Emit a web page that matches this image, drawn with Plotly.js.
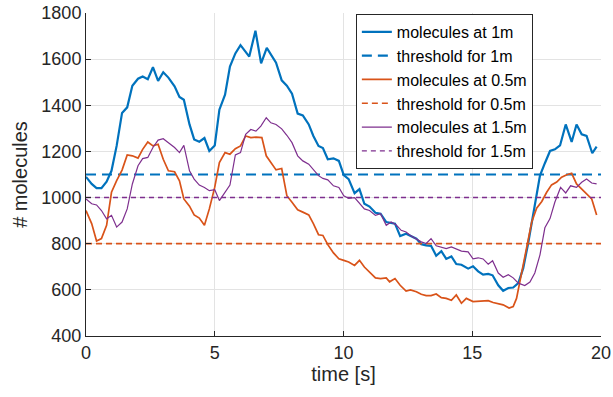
<!DOCTYPE html>
<html>
<head>
<meta charset="utf-8">
<script src="https://cdn.plot.ly/plotly-3.0.1.min.js"></script>
<style>html,body{margin:0;padding:0;background:#fff;}#chart{width:613px;height:397px;}</style>
</head>
<body>
<div id="chart"></div>
<script>
// ---- data ----
const blueT = [0,0.22,0.41,0.6,0.8,0.99,1.19,1.4,1.6,1.8,2.02,2.2,2.4,2.6,2.8,3.0,3.2,3.44,3.63,3.8,4.02,4.2,4.4,4.6,4.79,5.0,5.18,5.4,5.59,5.8,6.0,6.34,6.58,6.8,7.02,7.2,7.38,7.6,7.8,8.0,8.22,8.42,8.65,8.83,9.03,9.2,9.39,9.61,9.82,10.01,10.2,10.43,10.62,10.81,11.01,11.24,11.44,11.66,12.0,12.2,12.43,12.83,13.02,13.21,13.4,13.6,13.8,13.99,14.19,14.38,14.58,14.84,15.03,15.23,15.42,15.62,15.79,16.01,16.2,16.4,16.59,16.79,16.98,17.17,17.43,17.63,17.82,18.02,18.21,18.41,18.63,18.86,19.05,19.25,19.44,19.66,19.83];
const blueV = [1090,1059,1041,1041,1069,1116,1224,1367,1391,1485,1515,1525,1513,1565,1506,1543,1520,1482,1436,1424,1317,1252,1242,1258,1202,1226,1381,1446,1568,1625,1661,1611,1723,1582,1649,1617,1585,1508,1485,1450,1364,1356,1317,1267,1224,1215,1166,1170,1159,1097,1080,1019,1037,973,961,934,930,894,887,833,843,822,798,793,791,748,768,734,745,712,709,692,702,680,666,669,663,620,596,608,610,629,694,801,966,1095,1149,1202,1209,1226,1317,1241,1317,1274,1267,1192,1221];

const orangeT = [0,0.22,0.41,0.6,0.8,0.99,1.19,1.4,1.6,1.8,2.02,2.2,2.4,2.6,2.8,3.0,3.2,3.44,3.63,3.8,4.02,4.2,4.4,4.6,4.79,5.0,5.18,5.4,5.59,5.8,6.0,6.2,6.4,6.6,6.83,7.0,7.18,7.38,7.6,7.8,8.0,8.22,8.42,8.65,8.83,9.03,9.2,9.39,9.61,9.82,10.01,10.2,10.43,10.62,10.81,11.01,11.24,11.44,11.66,11.79,12.0,12.2,12.43,12.6,12.83,13.02,13.21,13.4,13.6,13.8,13.99,14.19,14.38,14.58,14.77,15.03,15.29,15.62,15.81,16.01,16.2,16.43,16.59,16.72,16.92,17.11,17.31,17.5,17.7,17.89,18.08,18.28,18.47,18.67,18.86,19.05,19.25,19.44,19.64,19.83];
const orangeV = [944,887,812,822,880,1023,1073,1119,1185,1181,1171,1209,1241,1224,1231,1166,1116,1112,1073,994,963,925,911,880,951,1045,1152,1195,1188,1212,1224,1267,1260,1262,1260,1181,1152,1120,1126,1008,980,947,937,925,887,839,836,796,760,735,728,721,706,728,699,678,652,649,652,635,649,620,595,600,592,581,575,575,582,566,563,555,578,542,563,549,552,553,545,539,535,521,528,563,678,786,894,954,983,1023,1055,1067,1088,1099,1105,1059,1037,1016,994,925];

const purpleT = [0,0.22,0.41,0.6,0.8,0.99,1.19,1.4,1.6,1.8,2.02,2.2,2.4,2.6,2.8,3.0,3.2,3.44,3.63,3.8,4.02,4.2,4.4,4.6,4.79,5.0,5.18,5.4,5.59,5.8,6.0,6.2,6.4,6.6,6.79,7.0,7.18,7.38,7.6,7.8,8.0,8.22,8.42,8.65,8.83,9.03,9.2,9.39,9.61,9.82,10.01,10.2,10.43,10.62,10.81,11.01,11.24,11.44,11.66,11.85,12.04,12.24,12.43,12.6,12.83,13.02,13.21,13.4,13.6,13.8,13.99,14.19,14.38,14.58,14.84,15.03,15.23,15.42,15.62,15.79,16.01,16.2,16.4,16.59,16.79,17.04,17.24,17.43,17.63,17.82,18.02,18.21,18.43,18.63,18.82,19.05,19.25,19.44,19.64,19.83];
const purpleV = [994,973,968,944,908,923,872,894,951,1059,1138,1169,1174,1217,1249,1255,1238,1217,1195,1226,1116,1080,1054,1044,1030,1034,987,1023,1054,1185,1195,1274,1295,1288,1310,1346,1324,1317,1298,1270,1238,1181,1159,1145,1123,1095,1083,1077,1051,1044,1008,997,1000,973,951,944,923,930,880,894,882,858,851,836,822,808,801,822,791,786,779,786,776,768,765,734,739,734,711,726,673,655,666,652,629,619,634,673,752,869,909,981,1044,1020,1051,1044,1066,1080,1063,1059];

const thresholdT = [0, 20];
const threshold1m = [1100, 1100];
const threshold05m = [800, 800];
const threshold15m = [1000, 1000];

const seriesNames = ["molecules at 1m","threshold for 1m","molecules at 0.5m","threshold for 0.5m","molecules at 1.5m","threshold for 1.5m"];

const BLUE = "#0072BD", ORANGE = "#D95319", PURPLE = "#7E2F8E";
const FONT = "Liberation Sans, Arial, sans-serif";

const traces = [
  {x: blueT, y: blueV, name: seriesNames[0], mode: "lines", line: {color: BLUE, width: 2.2}},
  {x: thresholdT, y: threshold1m, name: seriesNames[1], mode: "lines", line: {color: BLUE, width: 2.2, dash: "10px,6px"}},
  {x: orangeT, y: orangeV, name: seriesNames[2], mode: "lines", line: {color: ORANGE, width: 1.7}},
  {x: thresholdT, y: threshold05m, name: seriesNames[3], mode: "lines", line: {color: ORANGE, width: 1.7, dash: "6px,4px"}},
  {x: purpleT, y: purpleV, name: seriesNames[4], mode: "lines", line: {color: PURPLE, width: 1.2}},
  {x: thresholdT, y: threshold15m, name: seriesNames[5], mode: "lines", line: {color: PURPLE, width: 1.4, dash: "5px,4px"}}
];

const axisCommon = {
  showgrid: true, gridcolor: "#e3e3e3", gridwidth: 1,
  showline: true, linecolor: "#262626", linewidth: 1,
  ticks: "inside", ticklen: 5, tickcolor: "#262626", tickwidth: 1,
  tickfont: {family: FONT, size: 18, color: "#262626"},
  zeroline: false, mirror: false
};

const layout = {
  width: 613, height: 397,
  margin: {l: 86, r: 12, t: 13, b: 61},
  paper_bgcolor: "#ffffff", plot_bgcolor: "#ffffff",
  showlegend: true,
  xaxis: Object.assign({}, axisCommon, {
    range: [0, 20], tickvals: [0, 5, 10, 15, 20],
    title: {text: "time [s]", font: {family: FONT, size: 20, color: "#262626"}, standoff: 2}
  }),
  yaxis: Object.assign({}, axisCommon, {
    range: [400, 1800], tickvals: [400, 600, 800, 1000, 1200, 1400, 1600, 1800],
    title: {text: "# molecules", font: {family: FONT, size: 20, color: "#262626"}, standoff: 8}
  }),
  legend: {
    x: 0.524, y: 0.997, xanchor: "left", yanchor: "top",
    bgcolor: "#ffffff", bordercolor: "#262626", borderwidth: 1,
    font: {family: FONT, size: 16, color: "#000000"},
    tracegroupgap: 0, itemwidth: 30
  }
};

Plotly.newPlot("chart", traces, layout, {displayModeBar: false, staticPlot: true});
</script>
</body>
</html>
